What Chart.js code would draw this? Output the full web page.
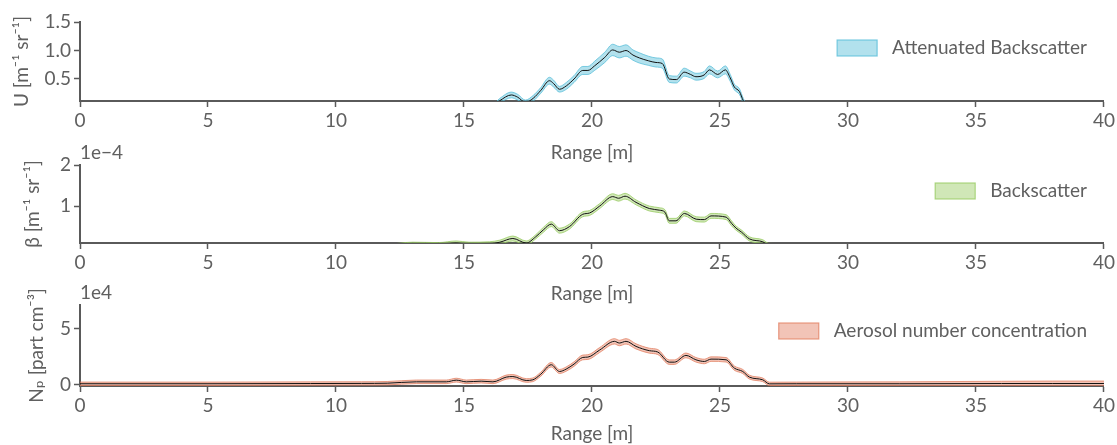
<!DOCTYPE html>
<html>
<head>
<meta charset="utf-8">
<script src="https://cdn.jsdelivr.net/npm/chart.js@4"></script>
<style>
  body { margin: 0; background: #fff; }
  .panel { position: absolute; left: 0; width: 1117px; }
</style>
</head>
<body>
<div class="panel" style="top:0px;height:165px"><canvas id="uChart" width="1117" height="165"></canvas></div>
<div class="panel" style="top:140px;height:165px"><canvas id="bChart" width="1117" height="165"></canvas></div>
<div class="panel" style="top:280px;height:165px"><canvas id="nChart" width="1117" height="165"></canvas></div>
<script>
// x ticks shared by all panels
const rangeTicks = [0, 5, 10, 15, 20, 25, 30, 35, 40];

// Attenuated backscatter U [m^-1 sr^-1]
const uRange = [0, 14.0, 16.1, 16.4, 16.85, 17.1, 17.4, 17.7, 18.0, 18.34, 18.5, 18.73, 19.0, 19.3, 19.64, 19.84, 20.1, 20.5, 20.81, 21.07, 21.33, 21.6, 21.85, 22.2, 22.5, 22.75, 23.02, 23.3, 23.6, 23.85, 24.06, 24.38, 24.59, 24.91, 25.21, 25.4, 25.56, 25.76, 25.91, 26.1, 40];
const uValue = [0, 0, 0.02, 0.12, 0.22, 0.18, 0.09, 0.16, 0.3, 0.47, 0.42, 0.32, 0.38, 0.5, 0.65, 0.65, 0.73, 0.88, 1.01, 0.97, 1.0, 0.92, 0.87, 0.82, 0.79, 0.77, 0.5, 0.49, 0.62, 0.58, 0.54, 0.57, 0.66, 0.58, 0.66, 0.52, 0.36, 0.28, 0.12, 0, 0];
const uErr = [0.03, 0.03, 0.03, 0.04, 0.05, 0.05, 0.04, 0.05, 0.05, 0.06, 0.06, 0.05, 0.06, 0.06, 0.07, 0.07, 0.08, 0.09, 0.1, 0.1, 0.1, 0.09, 0.09, 0.08, 0.08, 0.08, 0.06, 0.06, 0.07, 0.06, 0.06, 0.06, 0.07, 0.06, 0.07, 0.06, 0.05, 0.05, 0.04, 0.03, 0.03];
const uTicks = [0.5, 1.0, 1.5];

// Backscatter beta [1e-4 m^-1 sr^-1]
const bRange = [0, 12.0, 13.0, 14.0, 14.7, 15.2, 16.0, 16.4, 16.91, 17.43, 17.8, 18.1, 18.41, 18.73, 19.12, 19.64, 19.9, 20.3, 20.81, 21.04, 21.29, 21.72, 22.24, 22.63, 22.85, 23.02, 23.28, 23.61, 24.07, 24.39, 24.65, 25.24, 25.45, 25.63, 25.83, 26.15, 26.67, 26.9, 40];
const bValue = [0, 0.03, 0.07, 0.06, 0.1, 0.07, 0.08, 0.12, 0.21, 0.1, 0.25, 0.42, 0.56, 0.4, 0.5, 0.8, 0.83, 1.0, 1.23, 1.19, 1.24, 1.09, 0.94, 0.9, 0.85, 0.64, 0.64, 0.82, 0.68, 0.67, 0.76, 0.73, 0.58, 0.46, 0.37, 0.2, 0.13, 0.05, 0];
const bErr = [0.04, 0.04, 0.05, 0.05, 0.05, 0.05, 0.05, 0.05, 0.06, 0.05, 0.05, 0.06, 0.06, 0.06, 0.06, 0.06, 0.06, 0.06, 0.07, 0.07, 0.07, 0.06, 0.06, 0.06, 0.06, 0.06, 0.06, 0.06, 0.06, 0.06, 0.06, 0.06, 0.06, 0.05, 0.05, 0.05, 0.05, 0.04, 0.04];
const bTicks = [1, 2];

// Aerosol number concentration N_p [1e4 part cm^-3]
const nRange = [0, 5, 9, 11, 12, 13.14, 14.31, 14.7, 15.09, 15.67, 16.13, 16.65, 16.91, 17.43, 17.69, 18.0, 18.41, 18.73, 18.99, 19.3, 19.64, 19.84, 20.3, 20.88, 21.07, 21.33, 21.72, 22.24, 22.57, 23.02, 23.22, 23.67, 24.06, 24.39, 24.65, 25.24, 25.56, 25.89, 26.15, 26.67, 26.93, 28, 32, 36, 38, 40];
const nValue = [0.1, 0.1, 0.12, 0.13, 0.15, 0.27, 0.27, 0.42, 0.27, 0.33, 0.27, 0.69, 0.74, 0.39, 0.45, 0.95, 1.79, 1.19, 1.4, 1.85, 2.44, 2.47, 3.1, 3.87, 3.72, 3.87, 3.42, 3.04, 2.92, 2.02, 2.02, 2.62, 2.23, 2.08, 2.29, 2.23, 1.49, 1.19, 0.69, 0.45, 0.09, 0.1, 0.1, 0.12, 0.12, 0.12];
const nErr = [0.15, 0.15, 0.15, 0.15, 0.15, 0.16, 0.16, 0.17, 0.16, 0.16, 0.16, 0.18, 0.18, 0.16, 0.16, 0.18, 0.2, 0.18, 0.19, 0.2, 0.21, 0.21, 0.22, 0.24, 0.24, 0.24, 0.23, 0.22, 0.22, 0.2, 0.2, 0.21, 0.2, 0.2, 0.2, 0.2, 0.19, 0.18, 0.17, 0.16, 0.15, 0.15, 0.17, 0.2, 0.22, 0.22];
const nTicks = [0, 5];

const fontFamily = 'Lato, "DejaVu Sans", sans-serif';
Chart.defaults.font.family = fontFamily;
Chart.defaults.font.size = 19;
Chart.defaults.color = '#606060';

const axisColor = '#5a5a5a';

// legend swatch + label at top right, and the 1eN offset text
const panelDecor = {
  id: 'panelDecor',
  afterDraw(chart, args, opts) {
    const ctx = chart.ctx, area = chart.chartArea;
    ctx.save();
    ctx.font = '19px ' + fontFamily;
    ctx.fillStyle = '#606060';
    ctx.textBaseline = 'middle';
    ctx.textAlign = 'right';
    const tx = area.right - 17, ty = area.top + 26;
    ctx.fillText(opts.label, tx, ty);
    const w = ctx.measureText(opts.label).width;
    const sx = tx - w - 15 - 40;
    ctx.fillStyle = opts.fill;
    ctx.strokeStyle = opts.edge;
    ctx.lineWidth = 1.2;
    ctx.fillRect(sx, ty - 8, 40, 16);
    ctx.strokeRect(sx, ty - 8, 40, 16);
    if (opts.offset) {
      ctx.fillStyle = '#606060';
      ctx.textAlign = 'left';
      ctx.fillText(opts.offset, area.left, area.top - 12);
    }
    ctx.restore();
  }
};

function makePanel(id, xs, ys, errs, ticks, yMin, yMax, cfg) {
  const pts = (arr) => xs.map((x, i) => ({ x: x, y: arr[i] }));
  const lower = ys.map((v, i) => v - errs[i]);
  const upper = ys.map((v, i) => v + errs[i]);
  return new Chart(document.getElementById(id), {
    type: 'line',
    data: {
      datasets: [
        { data: pts(lower), borderColor: cfg.edge, borderWidth: 1, pointRadius: 0, fill: false, order: 2, cubicInterpolationMode: 'monotone' },
        { data: pts(upper), borderColor: cfg.edge, borderWidth: 1, pointRadius: 0, fill: '-1', backgroundColor: cfg.fill, order: 1, cubicInterpolationMode: 'monotone' },
        { data: pts(ys), borderColor: '#111', borderWidth: 1, pointRadius: 0, fill: false, order: 0, cubicInterpolationMode: 'monotone' }
      ]
    },
    options: {
      responsive: false,
      animation: false,
      devicePixelRatio: 1,
      layout: { padding: { top: cfg.padTop, right: 12, left: 0, bottom: 0 } },
      plugins: {
        legend: { display: false },
        tooltip: { enabled: false },
        panelDecor: { label: cfg.label, fill: cfg.fill, edge: cfg.edge, offset: cfg.offset }
      },
      scales: {
        x: {
          type: 'linear', min: 0, max: 40,
          afterBuildTicks: (s) => { s.ticks = rangeTicks.map(v => ({ value: v })); },
          afterFit: (s) => { s.height = cfg.xHeight; },
          ticks: { padding: 2, maxRotation: 0 },
          grid: { drawOnChartArea: false, tickLength: 6, tickColor: axisColor, tickWidth: 1.5 },
          border: { color: axisColor, width: 2 },
          title: { display: true, text: 'Range [m]', padding: { top: 0, bottom: cfg.xTitlePad } }
        },
        y: {
          min: yMin, max: yMax,
          afterBuildTicks: (s) => { s.ticks = ticks.map(v => ({ value: v })); },
          afterFit: (s) => { s.width = 80; },
          ticks: { padding: 3, callback: cfg.fmt },
          grid: { drawOnChartArea: false, tickLength: 6, tickColor: axisColor, tickWidth: 1.5 },
          border: { color: axisColor, width: 2 },
          title: { display: true, text: cfg.yTitle, padding: { top: cfg.yTitlePad, bottom: 0 } }
        }
      }
    },
    plugins: [panelDecor]
  });
}

makePanel('uChart', uRange, uValue, uErr, uTicks, 0.114, 1.5, {
  padTop: 22, xHeight: 64, xTitlePad: 1, yTitlePad: 10,
  yTitle: 'U [m\u207B\u00B9 sr\u207B\u00B9]',
  fmt: (v) => v.toFixed(1),
  label: 'Attenuated Backscatter',
  fill: 'rgba(84,188,216,0.45)', edge: 'rgba(84,188,216,0.75)'
});

makePanel('bChart', bRange, bValue, bErr, bTicks, 0.1, 2, {
  padTop: 25, xHeight: 62, xTitlePad: 0, yTitlePad: 21,
  yTitle: '\u03B2 [m\u207B\u00B9 sr\u207B\u00B9]',
  fmt: (v) => String(v),
  label: 'Backscatter', offset: '1e\u22124',
  fill: 'rgba(150,202,95,0.45)', edge: 'rgba(150,202,95,0.75)'
});

makePanel('nChart', nRange, nValue, nErr, nTicks, -0.1, 7.1, {
  padTop: 25, xHeight: 59, xTitlePad: 0, yTitlePad: 25,
  yTitle: 'N\u209A [part cm\u207B\u00B3]',
  fmt: (v) => String(v),
  label: 'Aerosol number concentration', offset: '1e4',
  fill: 'rgba(226,125,95,0.45)', edge: 'rgba(226,125,95,0.75)'
});
</script>
</body>
</html>
